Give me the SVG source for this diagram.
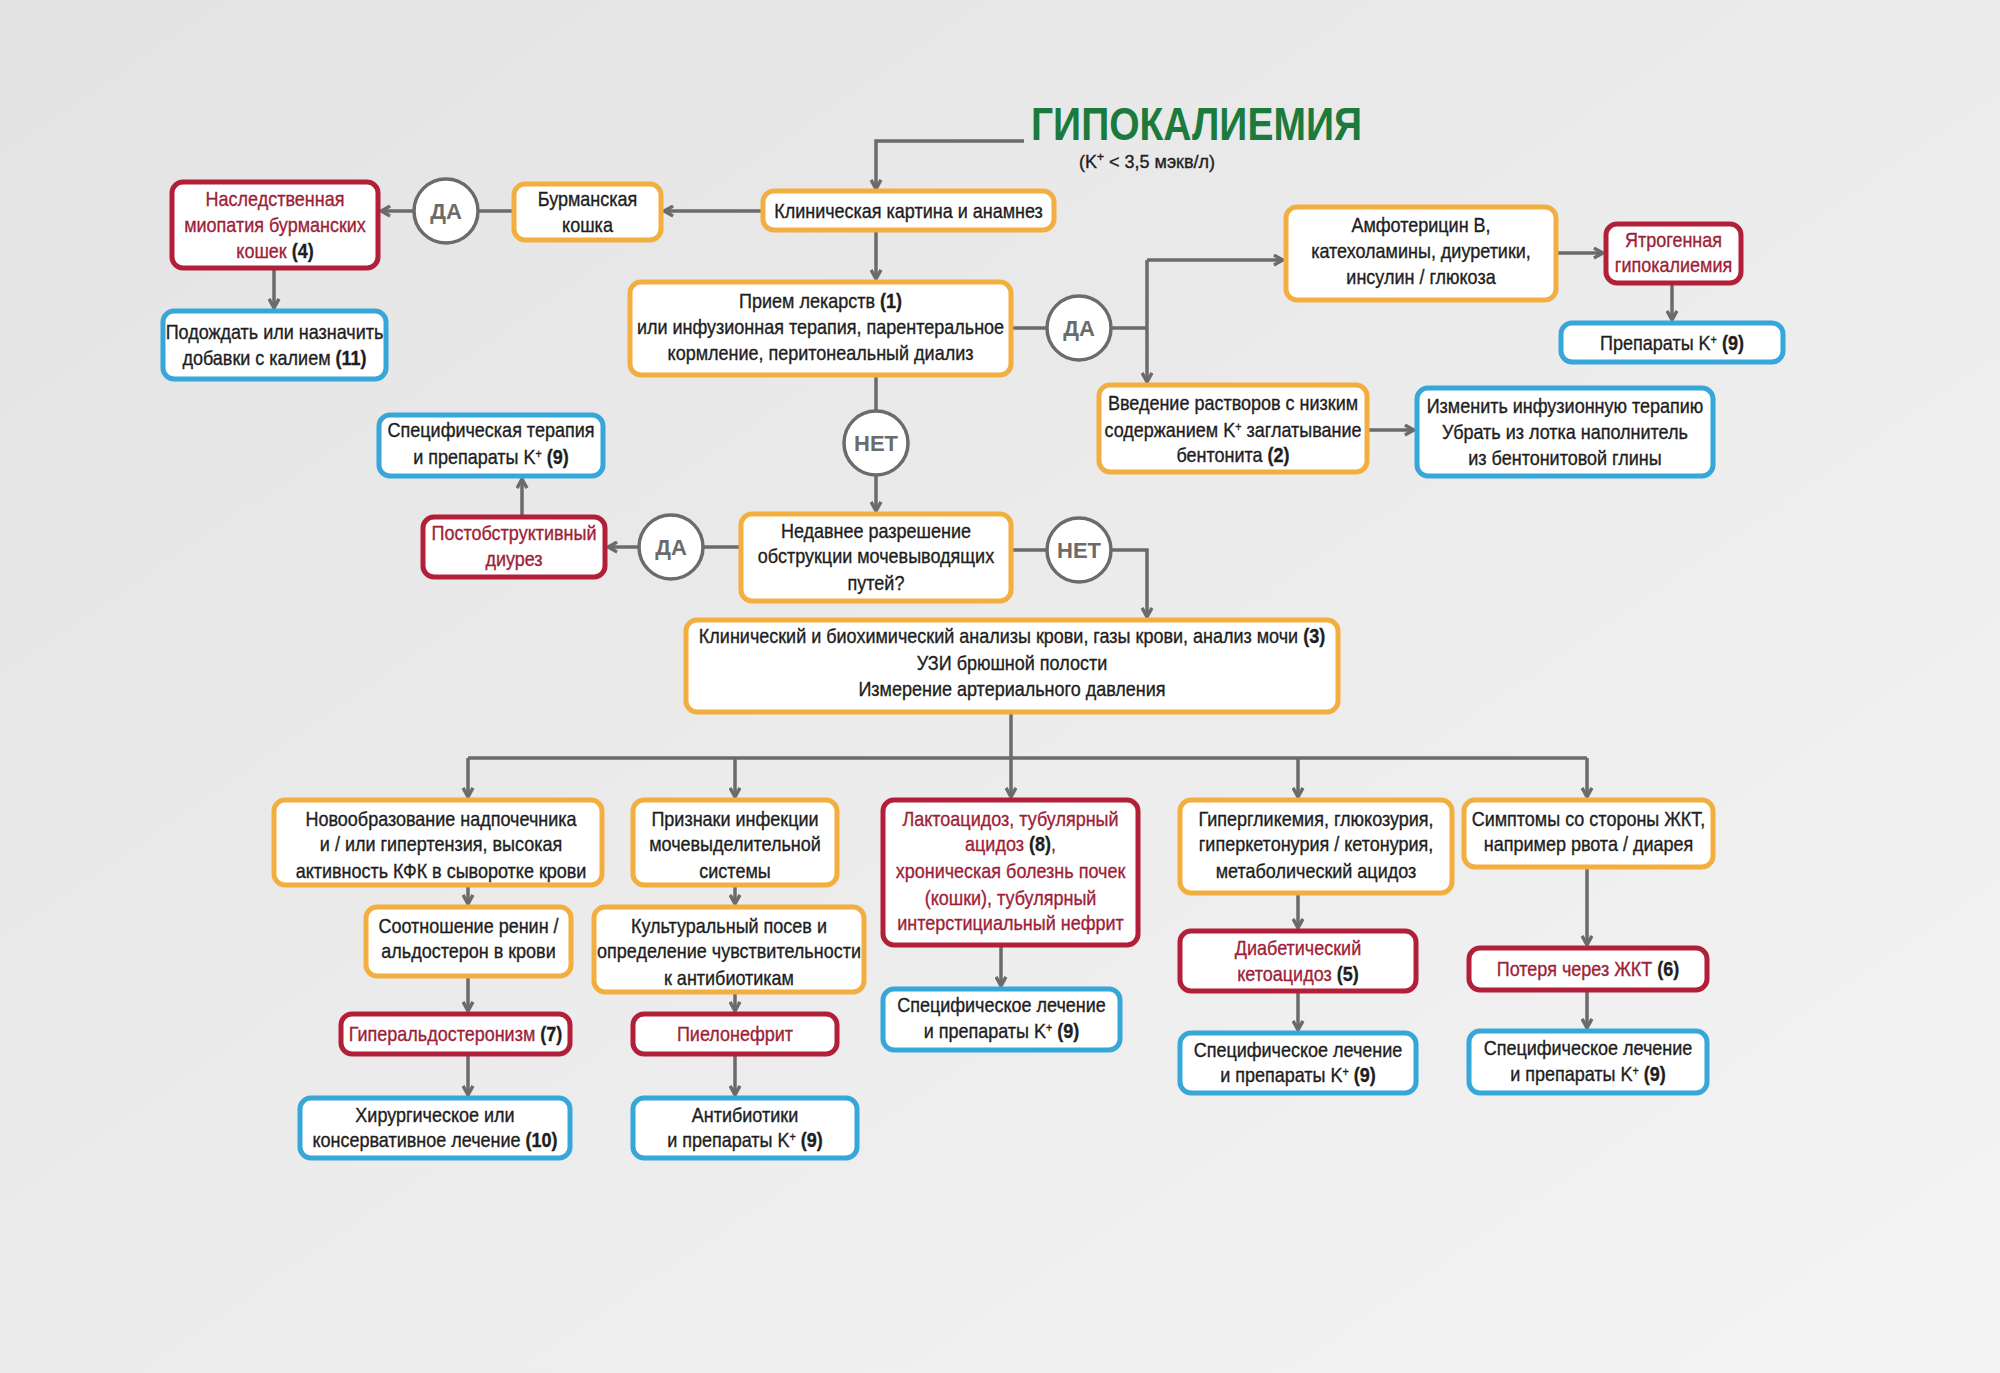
<svg xmlns="http://www.w3.org/2000/svg" width="2000" height="1373" viewBox="0 0 2000 1373">
<defs>
<linearGradient id="bg" x1="0" y1="0" x2="1" y2="1">
<stop offset="0" stop-color="#e3e3e4"/>
<stop offset="1" stop-color="#f4f4f4"/>
</linearGradient>
<marker id="ar" viewBox="0 0 10 10" refX="8.5" refY="5" markerWidth="13" markerHeight="13" markerUnits="userSpaceOnUse" orient="auto">
<path d="M1.5,1.2 L8.5,5 L1.5,8.8" fill="none" stroke="#6b6b6b" stroke-width="2.6" stroke-linejoin="miter"/>
</marker>
<style>
.o{fill:#fff;stroke:#f2ae3f;stroke-width:5}
.r{fill:#fff;stroke:#b21f38;stroke-width:5}
.b{fill:#fff;stroke:#37a6d9;stroke-width:5}
text{font-family:"Liberation Sans",Arial,sans-serif;font-size:20px;fill:#1e1e1e;stroke:#1e1e1e;stroke-width:0.35;text-anchor:middle}
.rt{fill:#9e1f38;stroke:#9e1f38}
.n{font-weight:bold;fill:#1e1e1e;stroke:#1e1e1e}
.sup{font-size:12px}
.cc{fill:#fff;stroke:#6b6b6b;stroke-width:3.5}
.ct{font-weight:bold;font-size:22px;fill:#6b6b6b;stroke:none}
.ln{fill:none;stroke:#6b6b6b;stroke-width:3.5}
.ln.a{marker-end:url(#ar)}
</style>
</defs>
<rect x="0" y="0" width="2000" height="1373" fill="url(#bg)"/>

<g id="title">
<text x="1031" y="140" style="font-weight:bold;font-size:46px;fill:#1b7a3c;stroke:none;text-anchor:start" textLength="331" lengthAdjust="spacingAndGlyphs">ГИПОКАЛИЕМИЯ</text>
<text x="1079" y="168" style="font-size:18px;text-anchor:start">(K<tspan class="sup" baseline-shift="super">+</tspan> &lt; 3,5 мэкв/л)</text>
</g>

<g id="connectors">
<path class="ln a" d="M1024,141 H876 V189"/>
<path class="ln a" d="M763,211 H664"/>
<path class="ln" d="M514,211 H478"/>
<path class="ln a" d="M414,211 H381"/>
<path class="ln a" d="M274,268 V308"/>
<path class="ln a" d="M876,230 V279"/>
<path class="ln" d="M1011,328 H1047"/>
<path class="ln" d="M1111,328 H1147"/>
<path class="ln a" d="M1147,260 H1283"/>
<path class="ln a" d="M1147,260 V382"/>
<path class="ln a" d="M1556,253 H1603"/>
<path class="ln a" d="M1672,283 V320"/>
<path class="ln a" d="M1367,430 H1414"/>
<path class="ln" d="M876,375 V411"/>
<path class="ln a" d="M876,475 V511"/>
<path class="ln" d="M741,547 H703"/>
<path class="ln a" d="M639,547 H608"/>
<path class="ln a" d="M522,517 V479"/>
<path class="ln" d="M1011,550 H1047"/>
<path class="ln a" d="M1111,550 H1147 V617"/>
<path class="ln" d="M1011,712 V758"/>
<path class="ln" d="M468,758 H1587"/>
<path class="ln a" d="M468,758 V797"/>
<path class="ln a" d="M735,758 V797"/>
<path class="ln a" d="M1011,758 V797"/>
<path class="ln a" d="M1298,758 V797"/>
<path class="ln a" d="M1587,758 V797"/>
<path class="ln a" d="M468,885 V904"/>
<path class="ln a" d="M468,976 V1011"/>
<path class="ln a" d="M468,1054 V1095"/>
<path class="ln a" d="M735,885 V904"/>
<path class="ln a" d="M735,992 V1011"/>
<path class="ln a" d="M735,1054 V1095"/>
<path class="ln a" d="M1001,945 V986"/>
<path class="ln a" d="M1298,893 V928"/>
<path class="ln a" d="M1298,991 V1030"/>
<path class="ln a" d="M1587,867 V945"/>
<path class="ln a" d="M1587,990 V1028"/>
</g>

<g id="c-da1"><circle class="cc" cx="446" cy="211" r="32"/><text class="ct" x="446" y="219">ДА</text></g>
<g id="c-da2"><circle class="cc" cx="1079" cy="328" r="32"/><text class="ct" x="1079" y="336">ДА</text></g>
<g id="c-net1"><circle class="cc" cx="876" cy="443" r="32"/><text class="ct" x="876" y="451">НЕТ</text></g>
<g id="c-da3"><circle class="cc" cx="671" cy="547" r="32"/><text class="ct" x="671" y="555">ДА</text></g>
<g id="c-net2"><circle class="cc" cx="1079" cy="550" r="32"/><text class="ct" x="1079" y="558">НЕТ</text></g>

<g id="n-klin"><rect class="o" x="763" y="191" width="291" height="39" rx="11"/><g transform="translate(908.5,0) scale(0.9,1)"><text x="0" y="218">Клиническая картина и анамнез</text></g></g>
<g id="n-burm"><rect class="o" x="514" y="184" width="147" height="56" rx="11"/><g transform="translate(587.5,0) scale(0.9,1)"><text x="0" y="206">Бурманская</text><text x="0" y="232">кошка</text></g></g>
<g id="n-nasl"><rect class="r" x="172" y="182" width="206" height="86" rx="11"/><g transform="translate(275,0) scale(0.9,1)"><text class="rt" x="0" y="206">Наследственная</text><text class="rt" x="0" y="232">миопатия бурманских</text><text class="rt" x="0" y="258">кошек <tspan class="n">(4)</tspan></text></g></g>
<g id="n-podozh"><rect class="b" x="163" y="311" width="223" height="68" rx="11"/><g transform="translate(274.5,0) scale(0.9,1)"><text x="0" y="339">Подождать или назначить</text><text x="0" y="365">добавки с калием <tspan class="n">(11)</tspan></text></g></g>
<g id="n-priem"><rect class="o" x="630" y="282" width="381" height="93" rx="11"/><g transform="translate(820.5,0) scale(0.9,1)"><text x="0" y="308">Прием лекарств <tspan class="n">(1)</tspan></text><text x="0" y="334">или инфузионная терапия, парентеральное</text><text x="0" y="360">кормление, перитонеальный диализ</text></g></g>
<g id="n-amfo"><rect class="o" x="1286" y="207" width="270" height="93" rx="11"/><g transform="translate(1421,0) scale(0.9,1)"><text x="0" y="232">Амфотерицин B,</text><text x="0" y="258">катехоламины, диуретики,</text><text x="0" y="284">инсулин / глюкоза</text></g></g>
<g id="n-yatro"><rect class="r" x="1606" y="224" width="135" height="59" rx="11"/><g transform="translate(1673.5,0) scale(0.9,1)"><text class="rt" x="0" y="247">Ятрогенная</text><text class="rt" x="0" y="272">гипокалиемия</text></g></g>
<g id="n-prep"><rect class="b" x="1561" y="323" width="222" height="39" rx="11"/><g transform="translate(1672,0) scale(0.9,1)"><text x="0" y="350">Препараты K<tspan class="sup" baseline-shift="super">+</tspan>  <tspan class="n">(9)</tspan></text></g></g>
<g id="n-vved"><rect class="o" x="1099" y="385" width="268" height="87" rx="11"/><g transform="translate(1233,0) scale(0.9,1)"><text x="0" y="410">Введение растворов с низким</text><text x="0" y="437">содержанием K<tspan class="sup" baseline-shift="super">+</tspan> заглатывание</text><text x="0" y="462">бентонита <tspan class="n">(2)</tspan></text></g></g>
<g id="n-izm"><rect class="b" x="1417" y="388" width="296" height="88" rx="11"/><g transform="translate(1565,0) scale(0.9,1)"><text x="0" y="413">Изменить инфузионную терапию</text><text x="0" y="439">Убрать из лотка наполнитель</text><text x="0" y="465">из бентонитовой глины</text></g></g>
<g id="n-specter"><rect class="b" x="379" y="415" width="224" height="61" rx="11"/><g transform="translate(491,0) scale(0.9,1)"><text x="0" y="437">Специфическая терапия</text><text x="0" y="464">и препараты K<tspan class="sup" baseline-shift="super">+</tspan> <tspan class="n">(9)</tspan></text></g></g>
<g id="n-postob"><rect class="r" x="423" y="517" width="182" height="60" rx="11"/><g transform="translate(514,0) scale(0.9,1)"><text class="rt" x="0" y="540">Постобструктивный</text><text class="rt" x="0" y="566">диурез</text></g></g>
<g id="n-nedav"><rect class="o" x="741" y="514" width="270" height="87" rx="11"/><g transform="translate(876,0) scale(0.9,1)"><text x="0" y="538">Недавнее разрешение</text><text x="0" y="563">обструкции мочевыводящих</text><text x="0" y="590">путей?</text></g></g>
<g id="n-klinbio"><rect class="o" x="686" y="620" width="652" height="92" rx="11"/><g transform="translate(1012,0) scale(0.9,1)"><text x="0" y="643">Клинический и биохимический анализы крови, газы крови, анализ мочи <tspan class="n">(3)</tspan></text><text x="0" y="670">УЗИ брюшной полости</text><text x="0" y="696">Измерение артериального давления</text></g></g>
<g id="n-novo"><rect class="o" x="274" y="800" width="328" height="85" rx="11"/><g transform="translate(441,0) scale(0.9,1)"><text x="0" y="826">Новообразование надпочечника</text><text x="0" y="851">и / или гипертензия, высокая</text><text x="0" y="878">активность КФК в сыворотке крови</text></g></g>
<g id="n-priz"><rect class="o" x="633" y="800" width="204" height="85" rx="11"/><g transform="translate(735,0) scale(0.9,1)"><text x="0" y="826">Признаки инфекции</text><text x="0" y="851">мочевыделительной</text><text x="0" y="878">системы</text></g></g>
<g id="n-lakto"><rect class="r" x="883" y="800" width="255" height="145" rx="11"/><g transform="translate(1010.5,0) scale(0.9,1)"><text class="rt" x="0" y="826">Лактоацидоз, тубулярный</text><text class="rt" x="0" y="851">ацидоз <tspan class="n">(8)</tspan>,</text><text class="rt" x="0" y="878">хроническая болезнь почек</text><text class="rt" x="0" y="905">(кошки), тубулярный</text><text class="rt" x="0" y="930">интерстициальный нефрит</text></g></g>
<g id="n-hyperg"><rect class="o" x="1180" y="800" width="272" height="93" rx="11"/><g transform="translate(1316,0) scale(0.9,1)"><text x="0" y="826">Гипергликемия, глюкозурия,</text><text x="0" y="851">гиперкетонурия / кетонурия,</text><text x="0" y="878">метаболический ацидоз</text></g></g>
<g id="n-simpt"><rect class="o" x="1464" y="800" width="249" height="67" rx="11"/><g transform="translate(1588.5,0) scale(0.9,1)"><text x="0" y="826">Симптомы со стороны ЖКТ,</text><text x="0" y="851">например рвота / диарея</text></g></g>
<g id="n-sootn"><rect class="o" x="366" y="907" width="205" height="69" rx="11"/><g transform="translate(468.5,0) scale(0.9,1)"><text x="0" y="933">Соотношение ренин /</text><text x="0" y="958">альдостерон в крови</text></g></g>
<g id="n-kult"><rect class="o" x="594" y="907" width="270" height="85" rx="11"/><g transform="translate(729,0) scale(0.9,1)"><text x="0" y="933">Культуральный посев и</text><text x="0" y="958">определение чувствительности</text><text x="0" y="985">к антибиотикам</text></g></g>
<g id="n-speclakto"><rect class="b" x="883" y="989" width="237" height="61" rx="11"/><g transform="translate(1001.5,0) scale(0.9,1)"><text x="0" y="1012">Специфическое лечение</text><text x="0" y="1038">и препараты K<tspan class="sup" baseline-shift="super">+</tspan> <tspan class="n">(9)</tspan></text></g></g>
<g id="n-diab"><rect class="r" x="1180" y="931" width="236" height="60" rx="11"/><g transform="translate(1298,0) scale(0.9,1)"><text class="rt" x="0" y="955">Диабетический</text><text class="rt" x="0" y="981">кетоацидоз <tspan class="n">(5)</tspan></text></g></g>
<g id="n-poter"><rect class="r" x="1469" y="948" width="238" height="42" rx="11"/><g transform="translate(1588,0) scale(0.9,1)"><text class="rt" x="0" y="976">Потеря через ЖКТ <tspan class="n">(6)</tspan></text></g></g>
<g id="n-hyperal"><rect class="r" x="341" y="1014" width="229" height="40" rx="11"/><g transform="translate(455.5,0) scale(0.9,1)"><text class="rt" x="0" y="1041">Гиперальдостеронизм <tspan class="n">(7)</tspan></text></g></g>
<g id="n-pielo"><rect class="r" x="633" y="1014" width="204" height="40" rx="11"/><g transform="translate(735,0) scale(0.9,1)"><text class="rt" x="0" y="1041">Пиелонефрит</text></g></g>
<g id="n-specdiab"><rect class="b" x="1180" y="1033" width="236" height="60" rx="11"/><g transform="translate(1298,0) scale(0.9,1)"><text x="0" y="1057">Специфическое лечение</text><text x="0" y="1082">и препараты K<tspan class="sup" baseline-shift="super">+</tspan> <tspan class="n">(9)</tspan></text></g></g>
<g id="n-specgi"><rect class="b" x="1469" y="1031" width="238" height="62" rx="11"/><g transform="translate(1588,0) scale(0.9,1)"><text x="0" y="1055">Специфическое лечение</text><text x="0" y="1081">и препараты K<tspan class="sup" baseline-shift="super">+</tspan> <tspan class="n">(9)</tspan></text></g></g>
<g id="n-hirurg"><rect class="b" x="300" y="1098" width="270" height="60" rx="11"/><g transform="translate(435,0) scale(0.9,1)"><text x="0" y="1122">Хирургическое или</text><text x="0" y="1147">консервативное лечение <tspan class="n">(10)</tspan></text></g></g>
<g id="n-antib"><rect class="b" x="633" y="1098" width="224" height="60" rx="11"/><g transform="translate(745,0) scale(0.9,1)"><text x="0" y="1122">Антибиотики</text><text x="0" y="1147">и препараты K<tspan class="sup" baseline-shift="super">+</tspan> <tspan class="n">(9)</tspan></text></g></g>
</svg>
